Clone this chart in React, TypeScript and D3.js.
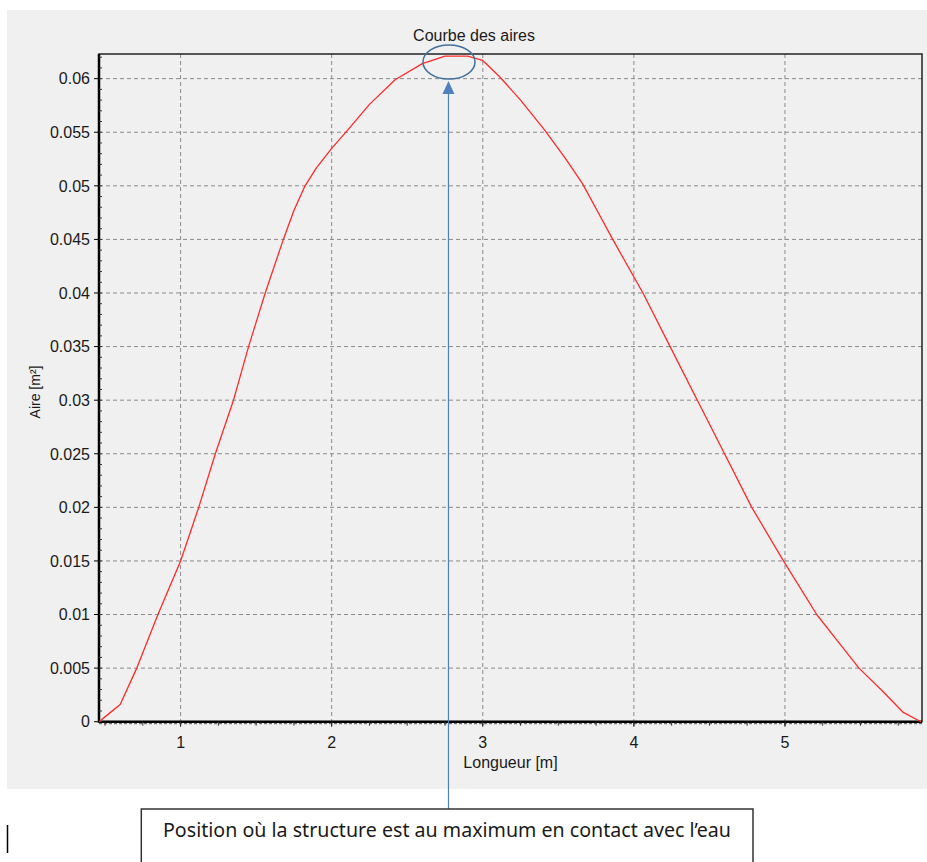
import React from 'react';
import * as d3 from 'd3';

// curve values
const lengths = [0.46, 0.53, 0.6, 0.71, 0.85, 1.0, 1.12, 1.23, 1.35, 1.45, 1.56, 1.68, 1.75, 1.82, 1.9, 2.0, 2.1, 2.25, 2.42, 2.6, 2.75, 2.9, 3.0, 3.11, 3.25, 3.41, 3.55, 3.66, 3.76, 3.86, 4.06, 4.24, 4.42, 4.6, 4.78, 4.99, 5.21, 5.35, 5.49, 5.65, 5.78, 5.9];
const areas = [0, 0.0008, 0.0016, 0.005, 0.01, 0.015, 0.02, 0.025, 0.03, 0.035, 0.04, 0.045, 0.0477, 0.0499, 0.0517, 0.0535, 0.0551, 0.0576, 0.0599, 0.0614, 0.0621, 0.0621, 0.0617, 0.0602, 0.058, 0.0552, 0.0525, 0.0502, 0.0476, 0.045, 0.04, 0.035, 0.03, 0.025, 0.02, 0.015, 0.01, 0.0075, 0.005, 0.0028, 0.0009, 0];
const xTicks = [1, 2, 3, 4, 5];
const yTicks = [0, 0.005, 0.01, 0.015, 0.02, 0.025, 0.03, 0.035, 0.04, 0.045, 0.05, 0.055, 0.06];
const yTickLabels = ['0', '0.005', '0.01', '0.015', '0.02', '0.025', '0.03', '0.035', '0.04', '0.045', '0.05', '0.055', '0.06'];
const peakLength = 2.773;

const W = 927;
const H = 862;
const left = 99, right = 922, top = 54, bottom = 721.7;
const font = '"Liberation Sans", Arial, sans-serif';

export default function App() {
  const x = d3.scaleLinear().domain([0.46, 5.907]).range([left, right]);
  const y = d3.scaleLinear().domain([0, 0.0623]).range([bottom, top]);

  const pts: [number, number][] = lengths.map((l, i) => [l, areas[i]]);
  const line = d3.line<[number, number]>()
    .x(d => x(d[0]))
    .y(d => y(d[1]));

  const xMinor = d3.range(0.5, 5.9, 0.25);
  const yMinor = d3.range(0, 0.0621, 0.001);

  const ax = x(peakLength);

  return (
    <svg width={W} height={H} style={{ position: 'absolute', left: 0, top: 0 }}>
      <rect x={0} y={0} width={W} height={H} fill="#fff" />
      <rect x={7} y={10} width={W - 7} height={779} fill="#f0f0f0" />

      {/* grid */}
      {yTicks.map(t => (
        <line key={'gy' + t} x1={left} x2={right} y1={y(t)} y2={y(t)}
          stroke="#8a8a8a" strokeDasharray="4,3" />
      ))}
      {xTicks.map(t => (
        <line key={'gx' + t} x1={x(t)} x2={x(t)} y1={top} y2={bottom}
          stroke="#8a8a8a" strokeDasharray="4,3" />
      ))}

      {/* frame */}
      <rect x={left} y={top} width={right - left} height={bottom - top}
        fill="none" stroke="#222" strokeWidth={1.5} />
      <line x1={left} x2={left} y1={top} y2={bottom + 1} stroke="#000" strokeWidth={2.5} />
      <line x1={left} x2={right} y1={bottom} y2={bottom} stroke="#000" strokeWidth={2.5} />
      <line x1={left} x2={right} y1={bottom + 2} y2={bottom + 2} stroke="#555" strokeDasharray="3,2" />

      {/* ticks */}
      {yTicks.map(t => (
        <line key={'ty' + t} x1={left - 5} x2={left} y1={y(t)} y2={y(t)} stroke="#000" />
      ))}
      {yMinor.map(t => (
        <line key={'my' + t} x1={left} x2={left + 3} y1={y(t)} y2={y(t)} stroke="#333" />
      ))}
      {xTicks.map(t => (
        <line key={'tx' + t} x1={x(t)} x2={x(t)} y1={bottom} y2={bottom + 5} stroke="#000" />
      ))}
      {xMinor.map(t => (
        <line key={'mx' + t} x1={x(t)} x2={x(t)} y1={bottom} y2={bottom + 4} stroke="#333" />
      ))}

      {/* tick labels */}
      {yTicks.map((t, i) => (
        <text key={'ly' + t} x={left - 9} y={y(t)} dy="0.36em" textAnchor="end"
          fontFamily={font} fontSize={16} fill="#1a1a1a">{yTickLabels[i]}</text>
      ))}
      {xTicks.map(t => (
        <text key={'lx' + t} x={x(t)} y={748} textAnchor="middle"
          fontFamily={font} fontSize={16} fill="#1a1a1a">{t}</text>
      ))}

      {/* titles */}
      <text x={474} y={41} textAnchor="middle" fontFamily={font} fontSize={16} fill="#1a1a1a">Courbe des aires</text>
      <text x={(left + right) / 2} y={768} textAnchor="middle" fontFamily={font} fontSize={16} fill="#1a1a1a">Longueur [m]</text>
      <text transform={`translate(40,392) rotate(-90)`} textAnchor="middle" fontFamily={font} fontSize={14} fill="#1a1a1a">Aire [m²]</text>

      {/* curve */}
      <path d={line(pts) || ''} fill="none" stroke="#ff2a2a" strokeWidth={1.3} strokeLinejoin="round" />

      {/* annotation */}
      <ellipse cx={449} cy={62} rx={26} ry={17} fill="none" stroke="#41719c" strokeWidth={1.5} />
      <line x1={ax} x2={ax} y1={93} y2={809} stroke="#4f81bd" strokeWidth={1.2} />
      <path d={`M${ax},81 L${ax - 6},94 L${ax + 6},94 Z`} fill="#4f81bd" />
      <rect x={141.3} y={809} width={611.7} height={70} fill="#fff" stroke="#333" strokeWidth={1.5} />
      <text x={163} y={837} fontFamily='"Noto Sans", "Open Sans", sans-serif' fontSize={19}
        textLength={568} lengthAdjust="spacingAndGlyphs" fill="#1a1a1a">Position où la structure est au maximum en contact avec l’eau</text>
      <line x1={7.5} x2={7.5} y1={825} y2={853} stroke="#000" strokeWidth={1.5} />
    </svg>
  );
}
